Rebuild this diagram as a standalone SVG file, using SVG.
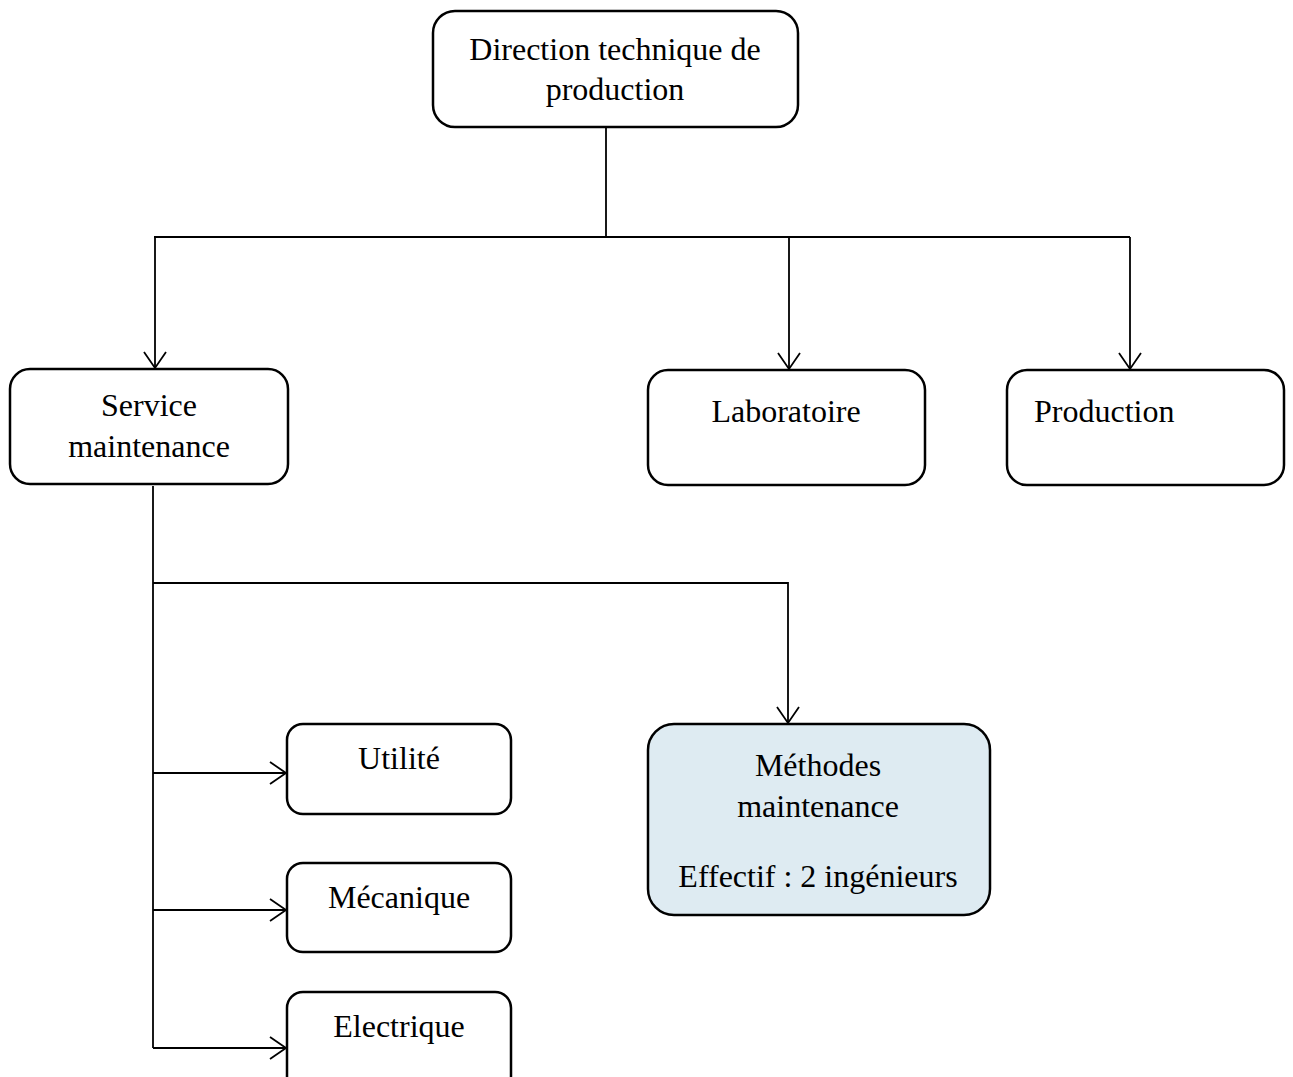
<svg xmlns="http://www.w3.org/2000/svg" width="1293" height="1077" viewBox="0 0 1293 1077">
  <style>
    .box { fill: #ffffff; stroke: #000000; stroke-width: 2.5; }
    .hl { fill: #deebf2; }
    .lbl { font-family: "Liberation Serif", "Times New Roman", serif; font-size: 32px; fill: #000000; text-anchor: middle; }
    .start { text-anchor: start; }
    .edge { fill: none; stroke: #000000; stroke-width: 1.8; }
  </style>
  <defs>
    <marker id="open-arrow" markerWidth="20" markerHeight="24" refX="17" refY="12" orient="auto" markerUnits="userSpaceOnUse">
      <path d="M1,1 L17,12 L1,23" fill="none" stroke="#000000" stroke-width="1.8"/>
    </marker>
  </defs>

  <!-- connectors -->
  <g id="connectors">
    <line class="edge" x1="606" y1="127" x2="606" y2="237"/>
    <line class="edge" x1="154" y1="237" x2="1130" y2="237"/>
    <line class="edge" x1="155" y1="237" x2="155" y2="368" marker-end="url(#open-arrow)"/>
    <line class="edge" x1="789" y1="237" x2="789" y2="369" marker-end="url(#open-arrow)"/>
    <line class="edge" x1="1130" y1="237" x2="1130" y2="369" marker-end="url(#open-arrow)"/>
    <line class="edge" x1="153" y1="486" x2="153" y2="1048"/>
    <polyline class="edge" points="153,583 788,583 788,723" marker-end="url(#open-arrow)"/>
    <line class="edge" x1="153" y1="773" x2="286" y2="773" marker-end="url(#open-arrow)"/>
    <line class="edge" x1="153" y1="910" x2="286" y2="910" marker-end="url(#open-arrow)"/>
    <line class="edge" x1="153" y1="1048" x2="286" y2="1048" marker-end="url(#open-arrow)"/>
  </g>

  <g id="direction">
    <rect class="box" x="433" y="11" width="365" height="116" rx="22"/>
    <text class="lbl" x="615" y="60">Direction technique de</text>
    <text class="lbl" x="615" y="100">production</text>
  </g>

  <g id="service-maintenance">
    <rect class="box" x="10" y="369" width="278" height="115" rx="20"/>
    <text class="lbl" x="149" y="416">Service</text>
    <text class="lbl" x="149" y="457">maintenance</text>
  </g>

  <g id="laboratoire">
    <rect class="box" x="648" y="370" width="277" height="115" rx="20"/>
    <text class="lbl" x="786" y="422">Laboratoire</text>
  </g>

  <g id="production">
    <rect class="box" x="1007" y="370" width="277" height="115" rx="20"/>
    <text class="lbl start" x="1034" y="422">Production</text>
  </g>

  <g id="methodes">
    <rect class="box hl" x="648" y="724" width="342" height="191" rx="26"/>
    <text class="lbl" x="818" y="776">Méthodes</text>
    <text class="lbl" x="818" y="817">maintenance</text>
    <text class="lbl" x="818" y="887">Effectif : 2 ingénieurs</text>
  </g>

  <g id="utilite">
    <rect class="box" x="287" y="724" width="224" height="90" rx="16"/>
    <text class="lbl" x="399" y="769">Utilité</text>
  </g>

  <g id="mecanique">
    <rect class="box" x="287" y="863" width="224" height="89" rx="16"/>
    <text class="lbl" x="399" y="908">Mécanique</text>
  </g>

  <g id="electrique">
    <rect class="box" x="287" y="992" width="224" height="100" rx="16"/>
    <text class="lbl" x="399" y="1037">Electrique</text>
  </g>
</svg>
